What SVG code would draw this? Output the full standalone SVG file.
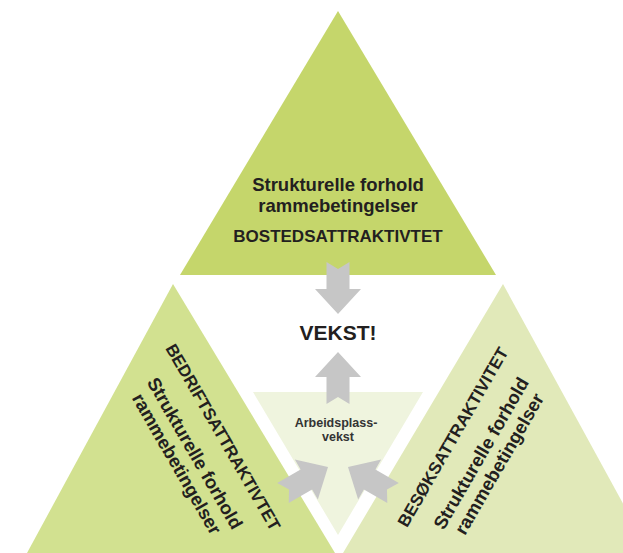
<svg xmlns="http://www.w3.org/2000/svg" width="623" height="553" viewBox="0 0 623 553">
  <defs>
    <style>
      .lbl { font-family: "Liberation Sans", Arial, sans-serif; font-weight: bold; fill: #231f20; text-anchor: middle; }
      .lc { font-size: 18.5px; }
      .cap { font-size: 17px; }
      .arrow { fill: #c6c6c6; }
    </style>
    <path id="arr" d="M0,0 L23,25 L11.5,25 L11.5,52 L0,45 L-11.5,52 L-11.5,25 L-23,25 Z"/>
  </defs>
  <rect x="0" y="0" width="623" height="553" fill="#ffffff"/>

  <g id="bosted">
    <polygon points="338,11 496,275 180,275" fill="#c5d66b"/>
    <text class="lbl lc" x="338" y="191">Strukturelle forhold</text>
    <text class="lbl lc" x="338" y="212">rammebetingelser</text>
    <text class="lbl cap" x="338" y="242">BOSTEDSATTRAKTIVTET</text>
  </g>

  <g id="bedrift">
    <polygon points="173,284 335,553 27,553" fill="#d2e190"/>
    <g transform="translate(218,440) rotate(60)">
      <text class="lbl cap" x="0" y="0">BEDRIFTSATTRAKTIVTET</text>
      <text class="lbl lc" x="0" y="33">Strukturelle forhold</text>
      <text class="lbl lc" x="0" y="54">rammebetingelser</text>
    </g>
  </g>

  <g id="besok">
    <polygon points="503,284 650,553 343,553" fill="#e1e9b9"/>
    <g transform="translate(458,440) rotate(-60)">
      <text class="lbl cap" x="0" y="0">BESØKSATTRAKTIVITET</text>
      <text class="lbl lc" x="0" y="33">Strukturelle forhold</text>
      <text class="lbl lc" x="0" y="54">rammebetingelser</text>
    </g>
  </g>

  <g id="arbeidsplass">
    <polygon points="253,392 423,392 338,535" fill="#eff4de"/>
    <text class="lbl" style="font-size:12.5px;fill:#333" x="336" y="427">Arbeidsplass-</text>
    <text class="lbl" style="font-size:12.5px;fill:#333" x="338" y="441">vekst</text>
  </g>

  <g id="vekst">
    <text class="lbl" style="font-size:21px" x="338" y="340">VEKST!</text>
  </g>

  <g id="connectors" class="arrow">
    <use href="#arr" transform="translate(338,314) rotate(180)"/>
    <use href="#arr" transform="translate(338,352)"/>
    <use href="#arr" transform="translate(328,467) rotate(60)"/>
    <use href="#arr" transform="translate(348,467) rotate(-60)"/>
  </g>
</svg>
